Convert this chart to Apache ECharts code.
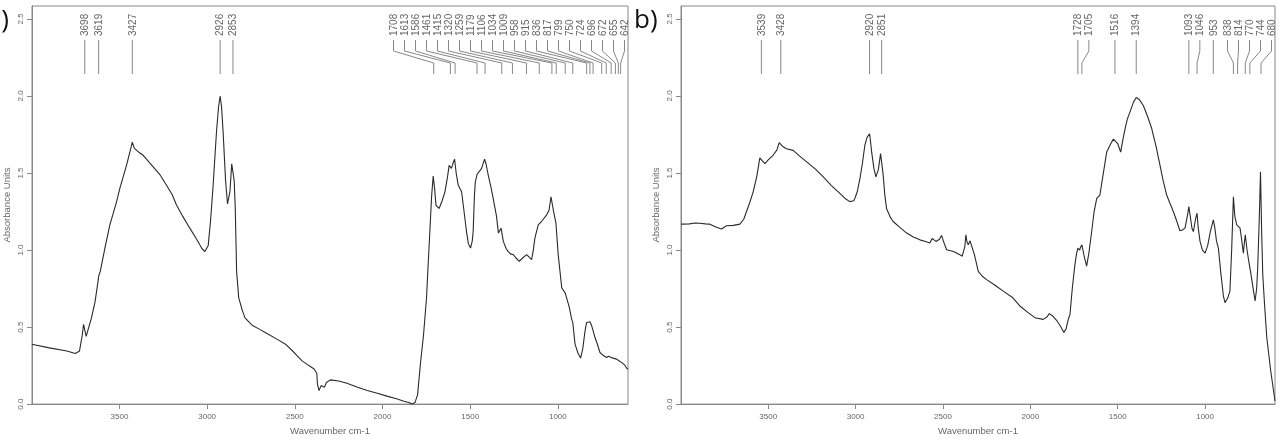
<!DOCTYPE html>
<html>
<head>
<meta charset="utf-8">
<script src="https://cdn.jsdelivr.net/npm/echarts@6/dist/echarts.min.js"></script>
<style>
  html, body { margin: 0; padding: 0; background: #fff; }
  #chart { width: 1282px; height: 441px; }
</style>
</head>
<body>
<div id="chart"></div>
<script>
// spectrum a)
var waveA = [4000, 3900, 3800, 3752, 3728, 3712, 3705, 3700, 3690, 3675, 3660, 3640, 3622, 3619, 3610, 3580, 3555, 3520, 3498, 3460, 3440, 3427, 3415, 3390, 3365, 3308, 3270, 3232, 3200, 3175, 3140, 3099, 3060, 3030, 3013, 2994, 2980, 2966, 2947, 2935, 2926, 2918, 2909, 2895, 2884, 2870, 2860, 2853, 2846, 2840, 2832, 2820, 2800, 2785, 2760, 2739, 2700, 2669, 2600, 2553, 2500, 2460, 2420, 2390, 2375, 2371, 2362, 2350, 2343, 2331, 2320, 2297, 2250, 2203, 2150, 2087, 2030, 1970, 1920, 1878, 1850, 1831, 1815, 1800, 1784, 1766, 1749, 1740, 1730, 1720, 1711, 1703, 1695, 1677, 1660, 1644, 1630, 1620, 1613, 1607, 1596, 1589, 1580, 1568, 1549, 1535, 1521, 1510, 1498, 1488, 1483, 1476, 1471, 1461, 1454, 1435, 1418, 1410, 1397, 1380, 1369, 1350, 1339, 1324, 1311, 1295, 1283, 1270, 1254, 1240, 1220, 1200, 1178, 1165, 1150, 1140, 1131, 1112, 1090, 1064, 1050, 1039, 1034, 1026, 1011, 998, 978, 958, 950, 935, 921, 915, 902, 885, 870, 858, 845, 836, 827, 817, 807, 799, 788, 775, 760, 750, 740, 722, 710, 699, 690, 680, 665, 650, 637, 620, 608, 600];
var absA = [0.389, 0.365, 0.345, 0.329, 0.345, 0.45, 0.518, 0.52, 0.44, 0.50, 0.56, 0.66, 0.80, 0.83, 0.86, 1.03, 1.163, 1.30, 1.40, 1.55, 1.64, 1.70, 1.66, 1.635, 1.615, 1.54, 1.49, 1.421, 1.36, 1.292, 1.22, 1.142, 1.07, 1.01, 0.99, 1.03, 1.2, 1.42, 1.765, 1.93, 2.0, 1.93, 1.765, 1.45, 1.30, 1.38, 1.56, 1.57, 1.45, 1.28, 0.86, 0.69, 0.61, 0.561, 0.53, 0.508, 0.485, 0.465, 0.42, 0.389, 0.33, 0.282, 0.25, 0.228, 0.2, 0.13, 0.088, 0.12, 0.127, 0.11, 0.14, 0.157, 0.15, 0.135, 0.113, 0.088, 0.07, 0.05, 0.035, 0.019, 0.01, 0.0, 0.01, 0.06, 0.26, 0.45, 0.69, 0.9, 1.12, 1.35, 1.48, 1.40, 1.29, 1.27, 1.32, 1.378, 1.47, 1.55, 1.54, 1.53, 1.57, 1.59, 1.50, 1.42, 1.378, 1.25, 1.12, 1.04, 1.013, 1.06, 1.12, 1.35, 1.44, 1.49, 1.486, 1.53, 1.59, 1.56, 1.486, 1.40, 1.335, 1.22, 1.11, 1.142, 1.056, 1.01, 0.99, 0.975, 0.97, 0.95, 0.927, 0.95, 0.97, 0.955, 0.937, 1.0, 1.077, 1.163, 1.19, 1.228, 1.26, 1.346, 1.35, 1.26, 1.174, 0.97, 0.755, 0.72, 0.69, 0.63, 0.55, 0.53, 0.389, 0.33, 0.299, 0.36, 0.475, 0.53, 0.529, 0.535, 0.508, 0.51, 0.432, 0.39, 0.335, 0.33, 0.315, 0.303, 0.31, 0.32, 0.30, 0.295, 0.292, 0.28, 0.271, 0.255, 0.234, 0.225];
var peaksA = [3698, 3619, 3427, 2926, 2853, 1708, 1613, 1586, 1461, 1415, 1320, 1259, 1179, 1106, 1034, 1009, 958, 915, 836, 817, 799, 750, 724, 696, 672, 655, 642];

// spectrum b)
var waveB = [3999, 3950, 3920, 3891, 3860, 3834, 3800, 3767, 3750, 3738, 3700, 3662, 3640, 3624, 3605, 3586, 3565, 3548, 3539, 3519, 3500, 3472, 3450, 3437, 3428, 3415, 3395, 3357, 3320, 3280, 3230, 3185, 3140, 3090, 3060, 3033, 3010, 3004, 2990, 2975, 2960, 2947, 2935, 2920, 2914, 2908, 2895, 2884, 2870, 2857, 2851, 2842, 2833, 2823, 2800, 2785, 2750, 2708, 2670, 2632, 2600, 2575, 2562, 2554, 2540, 2520, 2508, 2495, 2479, 2440, 2403, 2390, 2375, 2369, 2362, 2355, 2345, 2336, 2320, 2298, 2275, 2250, 2200, 2155, 2100, 2060, 2020, 1974, 1926, 1905, 1892, 1870, 1850, 1830, 1808, 1795, 1783, 1773, 1760, 1745, 1735, 1728, 1718, 1712, 1705, 1690, 1678, 1665, 1649, 1635, 1620, 1602, 1585, 1563, 1540, 1525, 1516, 1500, 1483, 1470, 1458, 1445, 1430, 1410, 1394, 1375, 1353, 1330, 1305, 1280, 1258, 1240, 1220, 1200, 1182, 1160, 1144, 1130, 1115, 1100, 1093, 1085, 1075, 1067, 1055, 1046, 1040, 1029, 1015, 1000, 985, 970, 953, 945, 935, 924, 910, 895, 886, 870, 858, 848, 838, 830, 819, 814, 800, 790, 781, 775, 770, 760, 747, 740, 725, 714, 705, 699, 690, 683, 680, 676, 670, 660, 647, 625, 600];
var absB = [1.168, 1.17, 1.175, 1.174, 1.17, 1.168, 1.15, 1.137, 1.15, 1.158, 1.16, 1.168, 1.2, 1.25, 1.31, 1.378, 1.48, 1.598, 1.60, 1.561, 1.585, 1.615, 1.65, 1.697, 1.69, 1.67, 1.658, 1.647, 1.61, 1.572, 1.525, 1.475, 1.42, 1.368, 1.335, 1.314, 1.32, 1.335, 1.38, 1.465, 1.57, 1.68, 1.73, 1.755, 1.70, 1.636, 1.53, 1.475, 1.52, 1.626, 1.63, 1.486, 1.36, 1.27, 1.21, 1.185, 1.15, 1.11, 1.085, 1.066, 1.055, 1.045, 1.075, 1.065, 1.056, 1.07, 1.095, 1.05, 1.002, 0.99, 0.97, 0.96, 1.02, 1.099, 1.05, 1.034, 1.06, 1.056, 0.97, 0.862, 0.83, 0.808, 0.77, 0.733, 0.69, 0.637, 0.60, 0.561, 0.55, 0.565, 0.587, 0.57, 0.544, 0.51, 0.465, 0.49, 0.55, 0.583, 0.75, 0.905, 0.98, 1.013, 1.0, 1.02, 1.034, 0.95, 0.895, 0.98, 1.12, 1.25, 1.335, 1.357, 1.48, 1.636, 1.69, 1.72, 1.727, 1.69, 1.636, 1.72, 1.787, 1.85, 1.895, 1.96, 1.99, 1.975, 1.937, 1.87, 1.787, 1.67, 1.55, 1.45, 1.357, 1.30, 1.25, 1.18, 1.125, 1.13, 1.142, 1.23, 1.282, 1.22, 1.14, 1.12, 1.2, 1.239, 1.15, 1.056, 1.0, 0.98, 1.03, 1.12, 1.196, 1.15, 1.06, 1.013, 0.85, 0.70, 0.658, 0.69, 0.733, 1.0, 1.346, 1.22, 1.163, 1.17, 1.142, 1.06, 0.98, 1.05, 1.099, 1.0, 0.905, 0.86, 0.75, 0.669, 0.75, 0.884, 1.2, 1.508, 1.51, 1.1, 0.84, 0.65, 0.432, 0.22, 0.02];
var peaksB = [3539, 3428, 2920, 2851, 1728, 1705, 1516, 1394, 1093, 1046, 953, 838, 814, 770, 744, 680];

var xTicks = [3500, 3000, 2500, 2000, 1500, 1000];
var yTicks = [0, 0.5, 1.0, 1.5, 2.0, 2.5];

var grey = '#666';
var myChart = echarts.init(document.getElementById('chart'));

function pairs(w, a) {
    return w.map(function (v, i) { return [v, a[i]]; });
}

// peak markers: labels pushed apart (forward), then pulled back inside the frame
function peakRender(peaks) {
    return function (params, api) {
        var cs = params.coordSys;
        var gap = 11, hi = cs.x + cs.width - 3.5;
        var px = peaks.map(function (w) { return api.coord([w, 0])[0]; });
        var order = px.map(function (v, i) { return i; }).sort(function (a, b) { return px[a] - px[b]; });
        var lx = [];
        order.forEach(function (idx, k) {
            var v = px[idx];
            if (k > 0) v = Math.max(v, lx[order[k - 1]] + gap);
            lx[idx] = v;
        });
        for (var k = order.length - 1; k >= 0; k--) {
            var idx = order[k];
            var lim = k === order.length - 1 ? hi : lx[order[k + 1]] - gap;
            lx[idx] = Math.min(lx[idx], lim);
        }
        var i = params.dataIndex;
        var top = cs.y;
        return {
            type: 'group',
            children: [
                {
                    type: 'polyline',
                    shape: { points: [[lx[i], top + 34], [lx[i], top + 45], [px[i], top + 57], [px[i], top + 68]] },
                    style: { stroke: '#888', lineWidth: 1, fill: null }
                },
                {
                    type: 'text',
                    x: lx[i] + 0.5,
                    y: top + 30,
                    rotation: Math.PI / 2,
                    style: {
                        text: String(peaks[i]),
                        fill: grey,
                        font: '10px "Liberation Sans", Arial, sans-serif',
                        align: 'left',
                        verticalAlign: 'middle'
                    }
                }
            ]
        };
    };
}

function xAx(idx) {
    return {
        type: 'value', gridIndex: idx, inverse: true, min: 600, max: 3999,
        name: 'Wavenumber cm-1', nameLocation: 'middle', nameGap: 21,
        nameTextStyle: { color: grey, fontSize: 9.5, fontFamily: 'Liberation Sans' },
        axisLine: { show: true, lineStyle: { color: '#888' } },
        axisTick: { show: true, length: 5, customValues: xTicks, lineStyle: { color: '#888' } },
        axisLabel: {
            customValues: xTicks, color: grey, fontSize: 8, margin: 9, fontFamily: 'Liberation Sans',
            formatter: function (v) { return String(v); }
        },
        splitLine: { show: false }
    };
}
function yAx(idx) {
    return {
        type: 'value', gridIndex: idx, min: 0, max: 2.584, interval: 0.5,
        name: 'Absorbance Units', nameLocation: 'middle', nameRotate: 90, nameGap: 20,
        nameTextStyle: { color: grey, fontSize: 9.5, fontFamily: 'Liberation Sans' },
        axisLine: { show: true, lineStyle: { color: '#888' } },
        axisTick: { show: true, length: 5, customValues: yTicks, lineStyle: { color: '#888' } },
        axisLabel: {
            customValues: yTicks, rotate: 90, color: grey, fontSize: 8, margin: 7, fontFamily: 'Liberation Sans',
            formatter: function (v) { return v.toFixed(1); }
        },
        splitLine: { show: false }
    };
}

var option = {
    animation: false,
    backgroundColor: '#fff',
    grid: [
        { left: 32, top: 6, width: 596, height: 401, show: true, borderColor: '#888', borderWidth: 1, backgroundColor: 'transparent' },
        { left: 681, top: 6, width: 594, height: 401, show: true, borderColor: '#888', borderWidth: 1, backgroundColor: 'transparent' }
    ],
    xAxis: [xAx(0), xAx(1)],
    yAxis: [yAx(0), yAx(1)],
    graphic: [
        { type: 'text', right: 1273, top: 8, style: { text: 'a)', fill: '#111', font: '26px "Open Sans", sans-serif' } },
        { type: 'text', left: 634, top: 8, style: { text: 'b)', fill: '#111', font: '26px "Open Sans", sans-serif' } }
    ],
    series: [
        {
            type: 'line', xAxisIndex: 0, yAxisIndex: 0, data: pairs(waveA, absA),
            showSymbol: false, smooth: false, lineStyle: { color: '#2a2a2a', width: 1.1 }, silent: true
        },
        {
            type: 'line', xAxisIndex: 1, yAxisIndex: 1, data: pairs(waveB, absB),
            showSymbol: false, smooth: false, lineStyle: { color: '#2a2a2a', width: 1.1 }, silent: true
        },
        {
            type: 'custom', xAxisIndex: 0, yAxisIndex: 0, clip: false, silent: true,
            data: peaksA.map(function (w) { return [w, 0]; }),
            renderItem: peakRender(peaksA)
        },
        {
            type: 'custom', xAxisIndex: 1, yAxisIndex: 1, clip: false, silent: true,
            data: peaksB.map(function (w) { return [w, 0]; }),
            renderItem: peakRender(peaksB)
        }
    ]
};

myChart.setOption(option);
</script>
</body>
</html>
